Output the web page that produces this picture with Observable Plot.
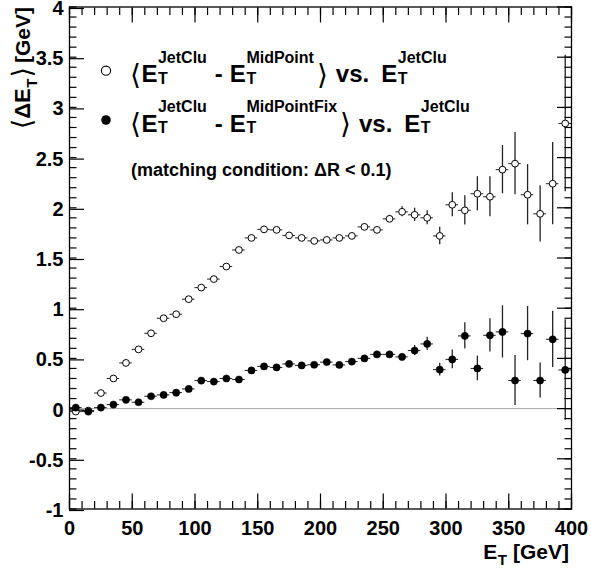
<!DOCTYPE html>
<html><head><meta charset="utf-8">
<script src="https://cdn.jsdelivr.net/npm/d3@7"></script>
<script src="https://cdn.jsdelivr.net/npm/@observablehq/plot@0.6"></script>
<style>body{margin:0;background:#fff}</style>
</head><body><div id="chart"></div>
<script>
// ---- data ----
const binCenters = [5,15,25,35,45,55,65,75,85,95,105,115,125,135,145,155,165,175,185,195,205,215,225,235,245,255,265,275,285,295,305,315,325,335,345,355,365,375,385,395];
const binHalfWidth = 5;
const midPointMean = [-0.03,-0.02,0.155,0.30,0.455,0.59,0.75,0.90,0.94,1.09,1.205,1.29,1.415,1.58,1.70,1.785,1.78,1.725,1.70,1.67,1.68,1.70,1.72,1.81,1.78,1.89,1.96,1.93,1.90,1.72,2.03,1.975,2.14,2.11,2.38,2.44,2.13,1.94,2.24,2.84];
const midPointErr = [0.01,0.01,0.01,0.01,0.01,0.01,0.012,0.012,0.013,0.014,0.015,0.015,0.016,0.017,0.018,0.019,0.02,0.02,0.021,0.022,0.023,0.025,0.027,0.03,0.03,0.035,0.05,0.066,0.07,0.087,0.12,0.146,0.17,0.20,0.24,0.31,0.30,0.28,0.41,0.68];
const midPointFixMean = [0.01,-0.03,0.01,0.04,0.087,0.063,0.123,0.136,0.159,0.196,0.279,0.269,0.30,0.29,0.38,0.42,0.41,0.445,0.43,0.437,0.463,0.435,0.468,0.50,0.54,0.54,0.515,0.578,0.644,0.388,0.49,0.724,0.40,0.73,0.764,0.28,0.747,0.28,0.69,0.385];
const midPointFixErr = [0.01,0.01,0.01,0.01,0.01,0.01,0.01,0.011,0.012,0.012,0.013,0.014,0.015,0.015,0.016,0.017,0.018,0.018,0.019,0.02,0.021,0.022,0.023,0.025,0.025,0.03,0.03,0.05,0.066,0.063,0.093,0.13,0.123,0.166,0.26,0.25,0.27,0.175,0.28,0.5];
const yMajorTicks = [-1,-0.5,0,0.5,1,1.5,2,2.5,3,3.5,4];
const xMajorTicks = [0,50,100,150,200,250,300,350,400];
const yMinorTicks = d3.range(-10, 41).map(v => v / 10);
const xMinorTicks = d3.range(0, 41).map(v => v * 10);

const openPts = binCenters.map((x, i) => ({x, y: midPointMean[i], e: midPointErr[i]}));
const fixPts = binCenters.map((x, i) => ({x, y: midPointFixMean[i], e: midPointFixErr[i]}));

const font = "'Liberation Sans', Arial, Helvetica, sans-serif";
const fmt = d => String(d);

function errMarks(data) {
  return [
    Plot.ruleX(data, {x: "x", y1: d => d.y - d.e, y2: d => d.y + d.e, stroke: "#222", strokeWidth: 1.3}),
    Plot.ruleY(data, {y: "y", x1: d => d.x - binHalfWidth, x2: d => d.x + binHalfWidth, stroke: "#222", strokeWidth: 1})
  ];
}

const svg = Plot.plot({
  width: 591, height: 569,
  marginTop: 6.5, marginBottom: 60.5, marginLeft: 69, marginRight: 20,
  x: {domain: [0, 400]},
  y: {domain: [-1, 4]},
  style: {fontFamily: font, fontWeight: "bold", fontSize: "20px", color: "black", background: "white", overflow: "visible"},
  marks: [
    Plot.ruleY([0], {stroke: "#a8a8a8", strokeWidth: 1}),
    ...errMarks(openPts),
    ...errMarks(fixPts),
    Plot.dot(openPts, {x: "x", y: "y", r: 3.4, fill: "white", stroke: "black", strokeWidth: 1}),
    Plot.dot(fixPts, {x: "x", y: "y", r: 3.6, fill: "black", stroke: "black", strokeWidth: 0.5}),
    Plot.axisY({ticks: yMinorTicks, anchor: "left", tickSize: -7.5, fill: "none", label: null, strokeWidth: 1.2}),
    Plot.axisY({ticks: yMajorTicks, anchor: "left", tickSize: -15, tickPadding: 21, tickFormat: fmt, label: null, strokeWidth: 1.2, fontSize: 20, dy: 1.5}),
    Plot.axisY({ticks: yMinorTicks, anchor: "right", tickSize: -7.5, fill: "none", label: null, strokeWidth: 1.2}),
    Plot.axisY({ticks: yMajorTicks, anchor: "right", tickSize: -15, fill: "none", label: null, strokeWidth: 1.2}),
    Plot.axisX({ticks: xMinorTicks, anchor: "bottom", tickSize: -7.5, fill: "none", label: null, strokeWidth: 1.2}),
    Plot.axisX({ticks: xMajorTicks, anchor: "bottom", tickSize: -15, tickPadding: 27, tickFormat: fmt, label: null, strokeWidth: 1.2, fontSize: 20}),
    Plot.axisX({ticks: xMinorTicks, anchor: "top", tickSize: -7.5, fill: "none", label: null, strokeWidth: 1.2}),
    Plot.axisX({ticks: xMajorTicks, anchor: "top", tickSize: -15, fill: "none", label: null, strokeWidth: 1.2}),
    Plot.frame({stroke: "black", strokeWidth: 1.3})
  ]
});
document.getElementById("chart").appendChild(svg);

// ---- rich text helpers ----
const root = d3.select(svg);
function addText(g, x, y, str, o) {
  const t = g.append("text").attr("x", x).attr("y", y).text(str)
    .attr("text-anchor", "start")
    .attr("font-family", o.family || font)
    .attr("font-weight", o.weight || "bold")
    .attr("font-size", o.size).attr("fill", "black");
  return t.node().getComputedTextLength();
}
function drawSeq(g, x, y, pieces) {
  let cx = x;
  for (const p of pieces) {
    if (p.gap) { cx += p.gap; continue; }
    if (p.et) {
      cx += addText(g, cx, y, "E", {size: p.size}) + 0.5;
      const wSub = addText(g, cx, y + p.size * p.subDy, "T", {size: p.small});
      let wSup = 0;
      if (p.sup) wSup = addText(g, cx, y - p.size * 0.8, p.sup, {size: p.small});
      cx += Math.max(wSub, wSup);
    } else {
      cx += addText(g, cx, y + (p.dy || 0), p.t, p);
    }
  }
  return cx - x;
}
const thin = "'DejaVu Sans', sans-serif";
const big = 24, small = 16;
function legendLine(g, y, sup2) {
  return drawSeq(g, 130, y, [
    {t: "\u27E8", size: 28, weight: "normal", family: thin, dy: 1.5},
    {gap: 0.5},
    {et: true, size: big, small, sup: "JetClu", subDy: 0.07},
    {gap: 8}, {t: "-", size: big}, {gap: 7},
    {et: true, size: big, small, sup: sup2, subDy: 0.07},
    {gap: 3},
    {t: "\u27E9", size: 28, weight: "normal", family: thin, dy: 1.5},
    {gap: 8}, {t: "vs.", size: big}, {gap: 12},
    {et: true, size: big, small, sup: "JetClu", subDy: 0.07}
  ]);
}
const leg = root.append("g");
leg.append("circle").attr("cx", 106).attr("cy", 70.7).attr("r", 4.6).attr("fill", "white").attr("stroke", "black").attr("stroke-width", 1.1);
leg.append("circle").attr("cx", 106).attr("cy", 120).attr("r", 4.8).attr("fill", "black");
legendLine(leg, 82, "MidPoint");
legendLine(leg, 131.5, "MidPointFix");
drawSeq(leg, 131, 176, [{t: "(matching condition: \u0394R < 0.1)", size: 18}]);

// x-axis title (right aligned)
const xt = root.append("g");
const wX = drawSeq(xt, 0, 0, [{et: true, size: 21, small: 15, subDy: 0.3}, {gap: 6}, {t: "[GeV]", size: 21}]);
xt.attr("transform", `translate(${569 - wX},559)`);

// y-axis title (rotated, right aligned at top)
const yt = root.append("g");
const wY = drawSeq(yt, 0, 0, [
  {t: "\u27E8", size: 27, weight: "normal", family: thin, dy: 1},
  {t: "\u0394", size: 22},
  {et: true, size: 22, small: 15, subDy: 0.3},
  {gap: 1},
  {t: "\u27E9", size: 27, weight: "normal", family: thin, dy: 1},
  {gap: 4},
  {t: "[GeV]", size: 21}
]);
yt.attr("transform", `translate(30,${7 + wY}) rotate(-90)`);
</script>
</body></html>
